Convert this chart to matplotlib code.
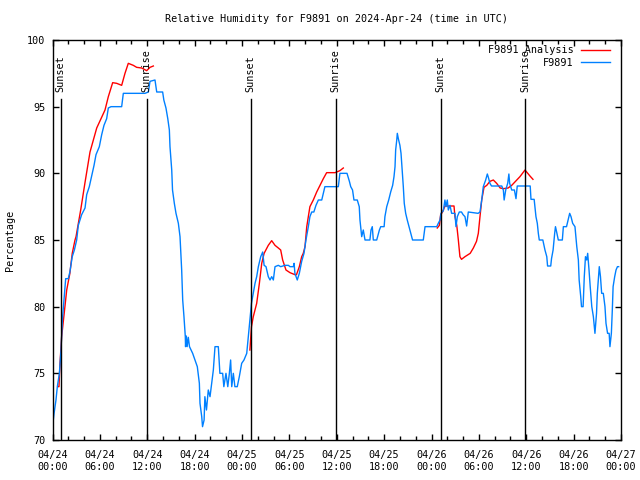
import numpy as np
import matplotlib.pyplot as plt
from matplotlib.ticker import MultipleLocator

# --- data (hours since 2024-04-24 00:00 UTC) ---
obs_hours = [0.0, 0.2, 0.44, 0.61, 0.87, 1.08, 1.25, 1.46, 1.67, 2.0, 2.2, 2.5, 2.77, 3.06,
             3.27, 3.69, 4.12, 4.33, 4.66, 5.0, 5.26, 5.51, 5.93, 6.23, 6.52, 6.86, 7.07, 7.41,
             8.76, 8.97, 10.66, 11.71, 12.14, 12.35, 12.98, 13.2, 13.95, 14.1, 14.37, 14.6,
             14.8, 14.88, 15.1, 15.2, 15.43, 15.64, 15.94, 16.15, 16.36, 16.49, 16.65, 16.82,
             16.85, 16.95, 17.05, 17.2, 17.35, 17.75, 18.05, 18.34, 18.6, 18.68, 18.9, 19.0,
             19.2, 19.3, 19.5, 19.73, 19.95, 20.16, 20.37, 20.58, 21.0, 21.2, 21.55, 21.7,
             21.97, 22.2, 22.4, 22.56, 22.7, 22.9, 23.1, 23.4, 23.66, 23.96, 24.25, 24.6, 24.8,
             24.93, 25.2, 25.43, 25.65, 25.86, 26.07, 26.37, 26.62, 26.8, 27.04, 27.33, 27.55,
             27.76, 27.97, 28.18, 28.6, 28.9, 29.45, 29.87, 30.08, 30.5, 30.6, 30.7, 31.0,
             31.26, 31.56, 31.85, 32.1, 32.4, 32.6, 32.83, 33.1, 33.37, 33.67, 34.1, 34.3,
             34.5, 36.2, 36.4, 37.3, 37.6, 37.77, 38.0, 38.18, 38.6, 38.85, 38.94, 39.16,
             39.36, 39.58, 40.2, 40.34, 40.5, 40.63, 41.06, 41.4, 41.57, 42.0, 42.1, 42.33,
             42.58, 42.83, 43.08, 43.25, 43.38, 43.46, 43.6, 43.67, 43.8, 44.0, 44.14, 44.26,
             44.43, 44.55, 44.73, 44.93, 45.15, 45.36, 45.6, 46.96, 47.18, 48.66, 48.86,
             49.08, 49.2, 49.5, 49.7, 49.83, 50.0, 50.13, 50.34, 50.55, 50.97, 51.1, 51.27,
             51.52, 51.8, 52.0, 52.24, 52.45, 52.66, 53.9, 54.14, 54.36, 54.56, 54.86, 55.07,
             55.2, 55.4, 55.6, 56.9, 57.1, 57.2, 57.4, 57.65, 57.8, 57.9, 58.16, 58.5, 58.7,
             58.86, 60.5, 60.6, 61.0, 61.1, 61.23, 61.4, 61.53, 61.65, 62.1, 62.25, 62.37,
             62.6, 62.7, 63.1, 63.2, 63.4, 63.6, 63.7, 63.85, 64.06, 64.57, 64.7, 65.1, 65.3,
             65.5, 65.67, 65.88, 66.17, 66.4, 66.6, 66.7, 66.9, 67.0, 67.2, 67.35, 67.5,
             67.66, 67.78, 67.95, 68.1, 68.3, 68.5, 68.7, 68.9, 69.0, 69.25, 69.4, 69.55,
             69.76, 69.97, 70.1, 70.3, 70.5, 70.6, 70.78, 70.9, 71.0, 71.2, 71.37, 71.55, 71.7]
obs_rh = [71.0, 72.0, 73.0, 74.0, 75.0, 76.75, 79.0, 80.6, 82.1, 82.1, 82.6, 83.75, 84.25, 85.0,
          86.1, 86.9, 87.4, 88.4, 89.0, 89.9, 90.6, 91.4, 92.0, 92.9, 93.6, 94.1, 94.9, 95.0,
          95.0, 96.0, 96.0, 96.0, 96.1, 96.9, 97.0, 96.1, 96.1, 95.5, 94.9, 94.1,
          93.25, 92.0, 90.25, 88.75, 87.75, 87.0, 86.25, 85.25, 82.75, 80.5, 79.25, 77.75,
          77.0, 77.8, 77.0, 77.7, 77.0, 76.5, 76.0, 75.5, 74.25, 72.75, 71.75, 71.0,
          71.5, 73.25, 72.25, 73.75, 73.25, 74.25, 75.25, 77.0, 77.0, 75.0, 75.0, 74.0,
          75.0, 74.0, 75.0, 76.0, 74.0, 75.0, 74.0, 74.0, 74.75, 75.75, 76.0, 76.5, 77.75,
          78.5, 80.25, 81.0, 81.75, 82.25, 83.0, 83.75, 84.1, 83.1, 83.0, 82.25, 82.0,
          82.25, 82.0, 83.0, 83.1, 83.0, 83.1, 83.1, 83.0, 83.0, 83.25, 82.5, 82.0,
          82.5, 83.4, 84.0, 85.0, 86.0, 86.75, 87.1, 87.1, 87.6, 88.0, 88.0, 88.5,
          89.0, 89.0, 90.0, 90.0, 89.4, 89.0, 88.75, 88.0, 88.0, 87.5, 86.5, 85.25,
          85.75, 85.0, 85.0, 85.75, 86.0, 85.0, 85.0, 85.75, 86.0, 86.0, 86.75, 87.5,
          88.0, 88.6, 89.1, 89.75, 90.5, 91.75, 92.5, 93.0, 92.6, 92.1, 91.5, 90.5,
          89.0, 87.75, 87.0, 86.5, 86.0, 85.5, 85.0, 85.0, 86.0, 86.0, 86.25,
          86.5, 87.0, 87.2, 88.0, 87.5, 88.0, 87.25, 87.6, 87.0, 87.0, 86.0, 86.75,
          87.1, 87.1, 86.9, 86.75, 86.05, 87.1, 87.0, 87.1, 88.0, 89.0, 89.5, 89.95,
          89.7, 89.25, 89.05, 89.05, 88.75, 88.0, 88.75, 89.25, 89.95, 89.25, 88.75, 88.75, 88.1,
          89.05, 89.05, 88.05, 88.05, 87.5, 86.75, 86.25, 85.5, 85.0, 85.0, 84.6, 84.25,
          83.75, 83.05, 83.05, 83.6, 84.25, 85.5, 86.0, 85.6, 85.0, 85.0, 86.0, 86.0, 86.5,
          87.0, 86.75, 86.25, 86.0, 84.5, 83.5, 82.0, 80.75, 80.0, 80.0, 82.25, 83.75,
          83.5, 84.0, 82.75, 81.5, 80.0, 79.25, 78.0, 79.5, 81.0, 83.0, 82.25, 81.0,
          81.0, 80.0, 78.75, 78.0, 78.0, 77.0, 78.0, 79.75, 81.5, 82.25, 82.75, 83.0, 83.0]

ana1_hours = [0.75, 0.82, 0.95, 1.16, 1.5, 1.8, 2.2, 2.5, 2.85, 2.98, 3.57, 4.1, 4.75, 5.6,
              6.65, 7.07, 7.62, 8.13, 8.76, 9.18, 9.6, 10.23, 10.66, 11.3, 11.93, 12.35, 12.77]
ana1_rh = [74.0, 74.0, 75.75, 77.75, 79.6, 81.25, 82.5, 84.0, 85.0, 85.25, 87.25, 89.25, 91.6, 93.4,
           94.75, 95.75, 96.8, 96.75, 96.6, 97.5, 98.25, 98.1, 97.95, 97.9, 97.7, 97.95, 98.05]

ana2_hours = [25.0, 25.2, 25.43, 25.86, 26.2, 26.5, 26.8, 27.33, 27.76, 28.18, 28.6, 28.9, 29.15,
              29.57, 30.08, 30.7, 30.9, 31.26, 31.56, 31.76, 31.98, 32.2, 32.4, 32.6, 33.03,
              33.46, 33.88, 34.3, 34.72, 35.78, 36.4, 36.83]
ana2_rh = [76.75, 78.5, 79.25, 80.25, 81.75, 83.25, 84.0, 84.6, 84.95, 84.6, 84.4, 84.25, 83.5,
           82.75, 82.55, 82.4, 82.4, 83.0, 83.75, 84.0, 84.5, 86.0, 86.75, 87.5, 88.0,
           88.6, 89.1, 89.6, 90.05, 90.05, 90.2, 90.4]

ana3_hours = [48.73, 49.0, 49.16, 49.4, 49.7, 50.85, 50.97, 51.2, 51.4, 51.6, 51.8, 52.24, 52.9,
              53.3, 53.7, 53.93, 54.14, 54.36, 54.65, 55.0, 55.4, 55.83, 56.25, 56.7, 57.1,
              57.7, 58.16, 58.8, 59.2, 59.84, 60.47, 60.85]
ana3_rh = [85.9, 86.1, 86.9, 87.1, 87.55, 87.55, 86.75, 86.1, 85.0, 83.75, 83.55, 83.75, 84.0,
           84.4, 84.9, 85.5, 86.75, 88.0, 88.95, 89.1, 89.4, 89.5, 89.25, 88.9, 88.85,
           88.9, 89.1, 89.5, 89.75, 90.25, 89.8, 89.55]

sunset_hours = [1.05, 25.1, 49.15]
sunrise_hours = [11.95, 35.85, 59.9]

tick_hours = list(range(0, 73, 6))
tick_labels = ["04/24\n00:00", "04/24\n06:00", "04/24\n12:00", "04/24\n18:00",
               "04/25\n00:00", "04/25\n06:00", "04/25\n12:00", "04/25\n18:00",
               "04/26\n00:00", "04/26\n06:00", "04/26\n12:00", "04/26\n18:00",
               "04/27\n00:00"]

# --- plotting ---
plt.rcParams['font.family'] = 'DejaVu Sans Mono'
fs = 7.3

fig = plt.figure(figsize=(6.4, 4.8), dpi=100)
ax = fig.add_axes([52.5 / 640, 40 / 480, (621 - 52.5) / 640, 400 / 480])

red = '#ff0000'
blue = '#0080ff'

ax.plot(ana1_hours, ana1_rh, color=red, lw=1.0, label='F9891 Analysis')
ax.plot(ana2_hours, ana2_rh, color=red, lw=1.0)
ax.plot(ana3_hours, ana3_rh, color=red, lw=1.0)
ax.plot(obs_hours, obs_rh, color=blue, lw=1.0, label='F9891')

# sunrise / sunset markers
for h in sunset_hours:
    ax.plot([h, h], [70, 95.55], color='black', lw=1.0)
    ax.text(h, 96.1, 'Sunset', rotation=90, ha='center', va='bottom', fontsize=fs)
for h in sunrise_hours:
    ax.plot([h, h], [70, 95.55], color='black', lw=1.0)
    ax.text(h, 96.1, 'Sunrise', rotation=90, ha='center', va='bottom', fontsize=fs)

ax.set_xlim(0, 72)
ax.set_ylim(70, 100)
ax.set_xticks(tick_hours)
ax.set_xticklabels(tick_labels, fontsize=fs, linespacing=1.3)
ax.xaxis.set_minor_locator(MultipleLocator(2))
ax.yaxis.set_major_locator(MultipleLocator(5))
ax.tick_params(axis='y', labelsize=fs)
ax.tick_params(which='both', direction='in', top=True, right=True, width=1.0)
ax.tick_params(which='major', length=4)
ax.tick_params(which='minor', length=3)
ax.tick_params(axis='x', pad=7)
ax.tick_params(axis='y', pad=5)
for s in ax.spines.values():
    s.set_linewidth(1.0)

ax.legend(loc='upper right', bbox_to_anchor=(0.99, 1.0), frameon=False, markerfirst=False,
          handlelength=2.9, fontsize=fs, borderaxespad=0.1, labelspacing=0.25, handletextpad=0.7)

fig.text(0.526, 1 - 19 / 480, 'Relative Humidity for F9891 on 2024-Apr-24 (time in UTC)',
         ha='center', va='center', fontsize=fs)
fig.text(10 / 640, 0.5, 'Percentage', rotation=90, ha='center', va='center', fontsize=fs)

fig.savefig('out.png', dpi=100)
